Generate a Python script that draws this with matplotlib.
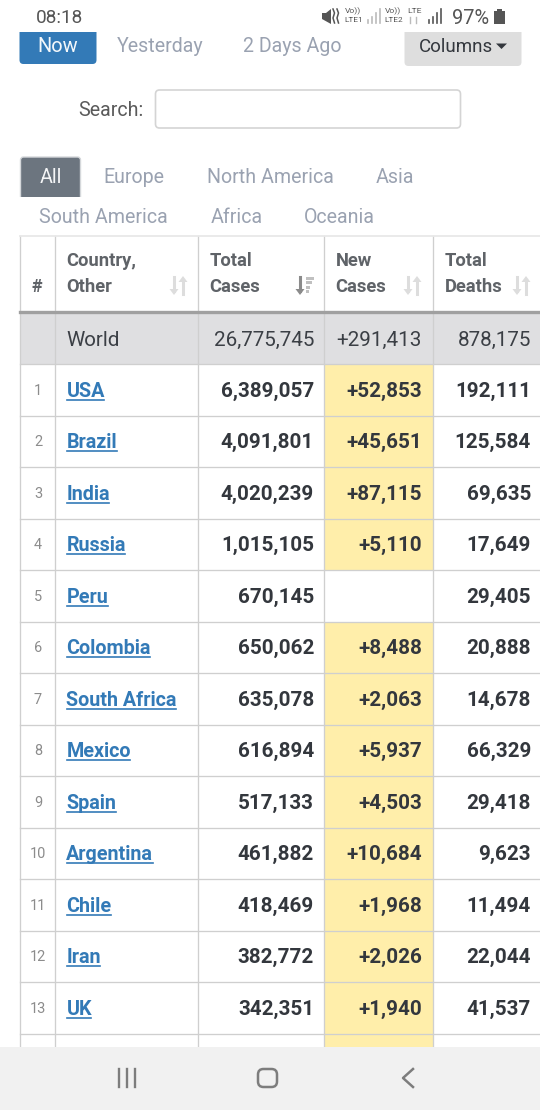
import matplotlib
matplotlib.use("Agg")
import matplotlib.pyplot as plt
from matplotlib.patches import Rectangle, FancyBboxPatch, Polygon

ranks = list(range(1, 14))
countries = ["USA", "Brazil", "India", "Russia", "Peru", "Colombia", "South Africa",
             "Mexico", "Spain", "Argentina", "Chile", "Iran", "UK"]
total_cases = ["6,389,057", "4,091,801", "4,020,239", "1,015,105", "670,145", "650,062",
               "635,078", "616,894", "517,133", "461,882", "418,469", "382,772", "342,351"]
new_cases = ["+52,853", "+45,651", "+87,115", "+5,110", "", "+8,488", "+2,063", "+5,937",
             "+4,503", "+10,684", "+1,968", "+2,026", "+1,940"]
total_deaths = ["192,111", "125,584", "69,635", "17,649", "29,405", "20,888", "14,678",
                "66,329", "29,418", "9,623", "11,494", "22,044", "41,537"]
world = ["World", "26,775,745", "+291,413", "878,175"]
headers = [("Country,", "Other"), ("Total", "Cases"), ("New", "Cases"), ("Total", "Deaths")]
tabs1 = ["Europe", "North America", "Asia"]
tabs2 = ["South America", "Africa", "Oceania"]
time_tabs = ["Yesterday", "2 Days Ago"]

plt.rcParams["font.family"] = ["Roboto", "DejaVu Sans"]
fig = plt.figure(figsize=(5.4, 11.1), dpi=100)
ax = fig.add_axes([0, 0, 1, 1])
ax.set_xlim(0, 540); ax.set_ylim(1110, 0); ax.axis("off")

PX = 0.72
def T(x, y, s, size=19, color="#33373d", ha="left", weight="normal", **k):
    return ax.text(x, y - 1, s, fontsize=size * PX, color=color, ha=ha, va="center_baseline", weight=weight, **k)

GRID = "#cfcfcf"; MUTED = "#9aa2b1"
cols = [20, 55, 198, 324, 433, 541]
head_top, head_bot, world_bot, row_h = 236, 311, 364, 51.5
BODY = 20.6

ax.add_patch(Rectangle((20, 313), 521, world_bot - 313, fc="#dfdfe1", ec="none"))
for i, nc in enumerate(new_cases):
    if nc:
        ax.add_patch(Rectangle((cols[3], world_bot + i * row_h), cols[4] - cols[3], row_h, fc="#ffeeaa", ec="none", zorder=1))
ax.add_patch(Rectangle((cols[3], world_bot + 13 * row_h), cols[4] - cols[3], 20, fc="#ffeeaa", ec="none", zorder=1))

bottom = 1050
for x in cols[:-1]:
    ax.plot([x, x], [head_top, bottom], color=GRID, lw=0.95, zorder=2)
ax.plot([20, 541], [head_top, head_top], color="#e8e8e8", lw=1.3, zorder=2)
ax.plot([20, 541], [312, 312], color="#a0a0a0", lw=2.4, zorder=2)
for i in range(14):
    y = world_bot + i * row_h
    ax.plot([20, 541], [y, y], color=GRID, lw=0.95, zorder=2)

HC = "#5f6368"
T(37, 286, "#", 18, HC, ha="center", weight="bold")
for (a, b), x in zip(headers, [66.4, 209.4, 335.4, 444.4]):
    T(x, 260, a, 18.4, HC, weight="bold")
    T(x, 286, b, 18.4, HC, weight="bold")

def sort_icon(x, dark=False, stacked=False):
    c1 = "#8b8b8b" if dark else "#dddddd"
    ax.plot([x - 4, x - 4], [277, 291], color=c1, lw=2.2, zorder=3)
    ax.add_patch(Polygon([[x - 8.5, 289], [x + 0.5, 289], [x - 4, 295]], fc=c1, ec="none", zorder=3))
    if stacked:
        for j, w in enumerate([8, 6, 4, 3]):
            ax.add_patch(Rectangle((x + 2, 277 + j * 4.3), w, 3, fc="#c0c0c0", ec="none", zorder=3))
    else:
        ax.plot([x + 5, x + 5], [280, 294], color="#dddddd", lw=2.2, zorder=3)
        ax.add_patch(Polygon([[x + 0.5, 282], [x + 9.5, 282], [x + 5, 276]], fc="#dddddd", ec="none", zorder=3))
for x, d, s in [(178, False, False), (304, True, True), (412, False, False), (521, False, False)]:
    sort_icon(x, d, s)

wy = 339
T(66.4, wy, world[0], BODY, "#3b3f45")
T(314, wy, world[1], BODY, "#3b3f45", ha="right")
T(422, wy, world[2], BODY, "#3b3f45", ha="right")
T(531, wy, world[3], BODY, "#3b3f45", ha="right")

for i in range(13):
    y = world_bot + (i + 0.5) * row_h + 0.6
    T(38, y, str(ranks[i]), 14.5, "#8c8c8c", ha="center")
    t = T(66.4, y, countries[i], 19.8, "#337ab7", weight="bold")
    fig.canvas.draw()
    bb = t.get_window_extent().transformed(ax.transData.inverted())
    ax.plot([67, bb.x1 - 0.5], [y + 9.5, y + 9.5], color="#337ab7", lw=1.2, zorder=3)
    T(314, y, total_cases[i], BODY, ha="right", weight="bold")
    if new_cases[i]:
        T(422, y, new_cases[i], BODY, ha="right", weight="bold", zorder=3)
    T(531, y, total_deaths[i], BODY, ha="right", weight="bold")

ax.add_patch(Rectangle((0, 0), 540, 32, fc="white", ec="none", zorder=4))
SB = "#555555"
T(36, 17, "08:18", 19, SB, zorder=5)
T(452, 17, "97%", 20, SB, zorder=5)
ax.add_patch(Rectangle((494, 11), 11, 13, fc=SB, ec="none", zorder=5))
ax.add_patch(Rectangle((497, 8.5), 5, 3, fc=SB, ec="none", zorder=5))
ax.add_patch(Polygon([[322, 13], [326, 13], [331, 9], [331, 24], [322, 19]], fc=SB, ec="none", zorder=5))
for xx in [333, 337]:
    ax.plot([xx, xx + 1.5, xx, xx + 1.5], [9, 13, 18, 23], color=SB, lw=1.1, zorder=5)
T(345, 11, "Vo))", 8.5, SB, zorder=5)
T(344, 21, "LTE1", 8.3, SB, zorder=5)
T(385, 11, "Vo))", 8.5, SB, zorder=5)
T(384, 21, "LTE2", 8.3, SB, zorder=5)
T(407, 11.5, "LTE", 8.5, SB, zorder=5)
ax.plot([410, 410], [17, 23], color="#bbbbbb", lw=1, zorder=5)
ax.plot([416, 416], [17, 23], color="#bbbbbb", lw=1, zorder=5)
for base, col in [(368, "#bbbbbb"), (429, SB)]:
    for j, h in enumerate([3, 6, 10, 14]):
        ax.plot([base + j * 4] * 2, [23, 23 - h], color=col, lw=1.2, zorder=5)

ax.add_patch(FancyBboxPatch((19.5, 26), 77, 38, boxstyle="round,pad=0,rounding_size=4", fc="#337ab7", ec="none", zorder=3))
ax.add_patch(Rectangle((0, 0), 540, 32, fc="white", ec="none", zorder=3.5))
T(58, 45.5, "Now", 20, "#f4f8fb", ha="center", zorder=5)
for s, x in zip(time_tabs, [117, 243]):
    T(x, 45.5, s, 19.7, MUTED)
ax.add_patch(FancyBboxPatch((404.5, 25), 117, 41, boxstyle="round,pad=0,rounding_size=4", fc="#dedede", ec="none", zorder=3))
ax.add_patch(Rectangle((400, 20), 130, 12, fc="white", ec="none", zorder=3.5))
T(419, 45.5, "Columns", 18.8, "#33373d", zorder=5)
ax.add_patch(Polygon([[496, 43.5], [507, 43.5], [501.5, 49]], fc="#33373d", ec="none", zorder=5))

T(78.6, 109.5, "Search:", 19.7, "#5a5a5a")
ax.add_patch(FancyBboxPatch((155.5, 90), 305, 38, boxstyle="round,pad=0,rounding_size=4", fc="white", ec="#d4d4d4", lw=1.2))

ax.add_patch(FancyBboxPatch((20.5, 157), 60, 50, boxstyle="round,pad=0,rounding_size=3", fc="#6c757f", ec="#d5d8db", lw=1))
ax.add_patch(Rectangle((19, 197), 64, 12, fc="white", ec="none"))
T(50.5, 176.5, "All", 19.7, "#f5f6f7", ha="center")
for s, x in zip(tabs1, [103.5, 206.8, 376]):
    T(x, 176.5, s, 19.7, MUTED)
for s, x in zip(tabs2, [39, 210.2, 304.2]):
    T(x, 216.5, s, 19.7, MUTED)

ax.add_patch(Rectangle((0, 1047), 540, 63, fc="#f1f1f1", ec="none", zorder=6))
NC = "#7d7d7d"
for x in [118.5, 126.5, 134.5]:
    ax.plot([x, x], [1069, 1087], color=NC, lw=1.7, zorder=7)
ax.add_patch(FancyBboxPatch((258, 1069), 19, 18, boxstyle="round,pad=0,rounding_size=5.5", fc="none", ec=NC, lw=1.8, zorder=7))
ax.plot([413, 403, 413], [1069, 1078, 1087], color=NC, lw=1.8, zorder=7)

fig.savefig("out.png", dpi=100, facecolor="white")
